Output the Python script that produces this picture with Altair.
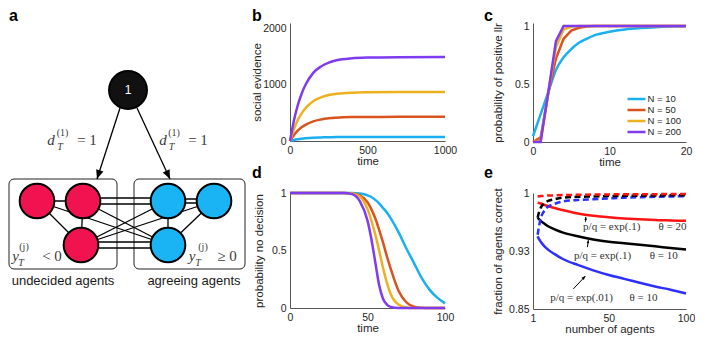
import math
import altair as alt
import pandas as pd

# ------------------------------------------------------------------ data
N_LABELS = ["N = 10", "N = 50", "N = 100", "N = 200"]
N_COLORS = ["#1AAFF0", "#D9531E", "#EDB120", "#7E3BEF"]

# panel b : social evidence vs time
b_time = [0, 25, 50, 75, 100, 150, 200, 250, 300, 400, 500, 700, 1000]
b_n10 = [0, 18, 32, 42, 49, 59, 64, 68, 70, 71, 71.5, 72, 72]
b_n50 = [0, 104, 183, 243, 288, 350, 383, 404, 415, 425, 428, 430, 430]
b_n100 = [0, 210, 371, 492, 583, 708, 775, 817, 839, 860, 866, 870, 871]
b_n200 = [0, 361, 636, 842, 1000, 1213, 1326, 1396, 1437, 1473, 1485, 1491, 1493]

# panel c : probability of positive llr vs time
c_time_step = list(range(0, 21))
c_n50 = [0, 0.04, 0.42, 0.72, 0.89, 0.96, 0.985, 0.995, 1, 1, 1, 1, 1, 1, 1, 1, 1, 1, 1, 1, 1]
c_n100 = [0, 0.01, 0.43, 0.82, 0.97, 0.995, 1, 1, 1, 1, 1, 1, 1, 1, 1, 1, 1, 1, 1, 1, 1]
c_n200 = [0, 0, 0.43, 0.87, 1, 1, 1, 1, 1, 1, 1, 1, 1, 1, 1, 1, 1, 1, 1, 1, 1]
c_time_smooth = [0, 1, 2, 3, 4, 5, 6, 7, 8, 10, 12, 14, 16, 18, 20]
c_n10 = [0.05, 0.24, 0.43, 0.62, 0.73, 0.80, 0.855, 0.89, 0.92, 0.95, 0.97, 0.982, 0.99, 0.995, 0.998]

# panel d : probability no decision vs time
d_time = [0, 30, 35, 40, 45, 50, 52.5, 55, 57.5, 60, 62.5, 65, 70, 75, 80, 85, 90, 95, 100]
d_n10 = [1, 1, 1, 1, 0.995, 0.98, 0.965, 0.94, 0.91, 0.87, 0.83, 0.78, 0.66, 0.52, 0.39, 0.26, 0.16, 0.09, 0.04]
d_n50 = [1, 1, 1, 0.995, 0.98, 0.92, 0.86, 0.78, 0.68, 0.57, 0.45, 0.34, 0.15, 0.05, 0.012, 0.002, 0, 0, 0]
d_n100 = [1, 1, 1, 0.995, 0.97, 0.86, 0.76, 0.64, 0.5, 0.35, 0.22, 0.12, 0.03, 0.005, 0, 0, 0, 0, 0]
d_n200 = [1, 1, 1, 0.99, 0.93, 0.76, 0.6, 0.4, 0.2, 0.08, 0.03, 0.01, 0, 0, 0, 0, 0, 0, 0]

# panel e : fraction of agents correct vs number of agents
e_n = [4, 5, 6, 8, 10, 15, 20, 30, 40, 50, 60, 70, 80, 90, 100]
e_solid_red = [0.9875, 0.987, 0.9865, 0.985, 0.9835, 0.9805, 0.978, 0.9735, 0.9705, 0.9685, 0.967, 0.966, 0.965, 0.9645, 0.964]
e_solid_black = [0.968, 0.966, 0.964, 0.961, 0.958, 0.953, 0.949, 0.944, 0.940, 0.937, 0.935, 0.933, 0.931, 0.929, 0.927]
e_solid_blue = [0.944, 0.940, 0.937, 0.932, 0.928, 0.921, 0.915, 0.907, 0.900, 0.894, 0.889, 0.884, 0.879, 0.875, 0.870]
e_dash_red = [0.9955, 0.9957, 0.996, 0.9963, 0.9966, 0.997, 0.9973, 0.9977, 0.998, 0.9982, 0.9983, 0.9984, 0.9985, 0.9986, 0.9986]
e_dash_black = [0.968, 0.976, 0.981, 0.986, 0.989, 0.992, 0.994, 0.995, 0.9955, 0.996, 0.9963, 0.9966, 0.9968, 0.997, 0.997]
e_dash_blue = [0.946, 0.958, 0.967, 0.976, 0.981, 0.986, 0.989, 0.991, 0.992, 0.993, 0.994, 0.9945, 0.995, 0.9955, 0.996]
E_SERIES = ["theta20", "theta10", "theta10_01"]
E_COLORS = ["#FF1414", "#000000", "#2E2EFF"]
e_note_text = ["p/q = exp(.1)", "p/q = exp(.1)", "p/q = exp(.01)"]
e_note_x = [33.4, 27.5, 12.1]
e_note_y = [0.9556, 0.9185, 0.8638]
e_theta_text = ["θ = 20", "θ = 10", "θ = 10"]
e_theta_x = [82.2, 76.6, 63.5]
e_arrow_x1 = [35.0, 36.2, 27.1]
e_arrow_y1 = [0.9628, 0.930, 0.876]
e_arrow_x2 = [35.2, 36.8, 34.9]
e_arrow_y2 = [0.969, 0.939, 0.8926]

# panel a : schematic network
node_label = ["1", "", "", "", "", "", ""]
node_x = [121, 30, 76, 74, 161, 207, 161]
node_y = [90, 201, 201, 245, 201, 201, 245]
node_kind = ["source", "undecided", "undecided", "undecided", "agreeing", "agreeing", "agreeing"]
node_size = [1440, 1200, 1200, 1200, 1200, 1200, 1200]
edge_from = [1, 1, 1, 2, 2, 2, 2, 3, 3, 3, 3, 4, 4, 4, 6]
edge_to = [2, 3, 6, 3, 4, 4, 6, 4, 5, 6, 6, 5, 5, 6, 5]
edge_dy = [0, 0, 0, 0, -3, 3, 0, 0, 0, -3, 3, -2, 2, 0, 0]
group_name = ["undecided agents", "agreeing agents"]
group_x1 = [2, 127]
group_x2 = [110, 238]
group_y1 = [179, 179]
group_y2 = [269, 269]
group_label_x = [56, 187]
group_label_y = [281, 281]
arrow_x1 = [113, 130]
arrow_y1 = [108, 108]
arrow_x2 = [90, 163]
arrow_y2 = [179, 179]
math_main_text = ["d", "d", "y", "y"]
math_main_x = [44, 156, 8.5, 185]
math_main_y = [140, 140, 256, 256]
math_rel_text = ["= 1", "= 1", "< 0", "≥ 0"]
math_rel_x = [80, 191, 45, 220]
math_rel_y = [140, 140, 256, 256]
math_sup_text = ["(1)", "(1)", "(j)", "(j)"]
math_sup_x = [55.5, 167, 17, 196]
math_sup_y = [133, 133, 247, 247]
math_sub_text = ["T", "T", "T", "T"]
math_sub_x = [53, 164.5, 14, 191]
math_sub_y = [146.5, 146.5, 262.5, 262.5]
panel_letter = ["a", "b", "c", "d", "e"]
panel_letter_x = [2, 245, 477, 245, 477]
panel_letter_y = [8, 8, 8, 165, 165]

ARROW = "M0,0L-0.42,-1L0.42,-1Z"
SANS = "Liberation Sans"
SERIF = "Liberation Serif"
TXT = "#262626"


def head_angle(dx, dy):
    return math.degrees(math.atan2(-dx, dy)) % 360


# ------------------------------------------------------------------ panel a
XA = alt.Scale(domain=[2, 195], nice=False, zero=False)
YA = alt.Scale(domain=[23, 141], reverse=True, nice=False, zero=False)


def ax(f):
    return alt.X(f + ":Q", scale=XA, axis=None)


def ay(f):
    return alt.Y(f + ":Q", scale=YA, axis=None)


df_nodes = pd.DataFrame({"x": node_x, "y": node_y, "kind": node_kind,
                         "size": node_size, "text": node_label})
df_edges = pd.DataFrame({
    "x1": [node_x[i] for i in edge_from],
    "y1": [node_y[i] + d for i, d in zip(edge_from, edge_dy)],
    "x2": [node_x[j] for j in edge_to],
    "y2": [node_y[j] + d for j, d in zip(edge_to, edge_dy)],
})
df_groups = pd.DataFrame({"x1": group_x1, "x2": group_x2, "y1": group_y1, "y2": group_y2,
                          "text": group_name, "lx": group_label_x, "ly": group_label_y})
df_arrows = pd.DataFrame({
    "x1": arrow_x1, "y1": arrow_y1, "x2": arrow_x2, "y2": arrow_y2,
    "angle": [head_angle(a2 - a1, b2 - b1) for a1, b1, a2, b2 in zip(arrow_x1, arrow_y1, arrow_x2, arrow_y2)],
})


def tdf(t, x, y):
    return pd.DataFrame({"text": t, "x": x, "y": y})


boxes = alt.Chart(df_groups).mark_rect(cornerRadius=5, fill="white", stroke="#222222", strokeWidth=1).encode(
    x=ax("x1"), x2="x2:Q", y=ay("y1"), y2="y2:Q")
edges = alt.Chart(df_edges).mark_rule(color="black", strokeWidth=1.3).encode(
    x=ax("x1"), x2="x2:Q", y=ay("y1"), y2="y2:Q")
arrow_lines = alt.Chart(df_arrows).mark_rule(color="black", strokeWidth=1.3).encode(
    x=ax("x1"), x2="x2:Q", y=ay("y1"), y2="y2:Q")
arrow_heads = alt.Chart(df_arrows).mark_point(shape=ARROW, filled=True, color="black", opacity=1, size=324).encode(
    x=ax("x2"), y=ay("y2"), angle=alt.Angle("angle:Q", scale=None))
nodes = alt.Chart(df_nodes).mark_circle(stroke="black", strokeWidth=2, opacity=1).encode(
    x=ax("x"), y=ay("y"),
    fill=alt.Fill("kind:N", scale=alt.Scale(domain=["source", "undecided", "agreeing"],
                                             range=["#111111", "#F0134F", "#1AB4F5"]), legend=None),
    size=alt.Size("size:Q", scale=None))
node_text = alt.Chart(df_nodes).mark_text(color="white", font=SANS, fontSize=12).encode(
    x=ax("x"), y=ay("y"), text="text:N")
group_text = alt.Chart(df_groups).mark_text(color="#1a1a1a", font=SANS, fontSize=13).encode(
    x=ax("lx"), y=ay("ly"), text="text:N")
m_main = alt.Chart(tdf(math_main_text, math_main_x, math_main_y)).mark_text(
    font=SERIF, fontSize=15, fontStyle="italic", color="#3a3a3a").encode(x=ax("x"), y=ay("y"), text="text:N")
m_rel = alt.Chart(tdf(math_rel_text, math_rel_x, math_rel_y)).mark_text(
    font=SERIF, fontSize=15, color="#3a3a3a").encode(x=ax("x"), y=ay("y"), text="text:N")
m_sup = alt.Chart(tdf(math_sup_text, math_sup_x, math_sup_y)).mark_text(
    font=SERIF, fontSize=10, color="#3a3a3a").encode(x=ax("x"), y=ay("y"), text="text:N")
m_sub = alt.Chart(tdf(math_sub_text, math_sub_x, math_sub_y)).mark_text(
    font=SERIF, fontSize=10, fontStyle="italic", color="#3a3a3a").encode(x=ax("x"), y=ay("y"), text="text:N")
letters = alt.Chart(tdf(panel_letter, panel_letter_x, panel_letter_y)).mark_text(
    font=SANS, fontSize=16, fontWeight="bold", align="left", baseline="top", color="black").encode(
    x=ax("x"), y=ay("y"), text="text:N")

panel_a = alt.layer(boxes, edges, arrow_lines, arrow_heads, nodes, node_text, group_text,
                    m_main, m_rel, m_sup, m_sub, letters).properties(width=193, height=118)

spacer = alt.Chart(pd.DataFrame({"v": [0]})).mark_point(opacity=0).encode(
    x=alt.X("v:Q", axis=None), y=alt.Y("v:Q", axis=None)).properties(width=193, height=115)

# ------------------------------------------------------------------ shared helpers
NCOLOR = alt.Scale(domain=N_LABELS, range=N_COLORS)


def long_df(xs, series, xname):
    rows = []
    for lab, vals in series:
        for x, v in zip(xs, vals):
            rows.append({xname: x, "value": v, "N": lab})
    return pd.DataFrame(rows)


def xaxis(vals, title):
    return alt.Axis(values=vals, title=title, format="d", labelPadding=4, titlePadding=0,
                    labelFlush=False, labelOverlap=False)


# ------------------------------------------------------------------ panel b
df_b = long_df(b_time, [("N = 10", b_n10), ("N = 50", b_n50), ("N = 100", b_n100), ("N = 200", b_n200)], "time")
panel_b = alt.Chart(df_b).mark_line(strokeWidth=2.5, interpolate="monotone").encode(
    x=alt.X("time:Q", scale=alt.Scale(domain=[0, 1000], nice=False), axis=xaxis([0, 500, 1000], "time")),
    y=alt.Y("value:Q", scale=alt.Scale(domain=[0, 2100], nice=False),
            axis=alt.Axis(values=[0, 1000, 2000], title="social evidence", format="d", titlePadding=0)),
    color=alt.Color("N:N", scale=NCOLOR, legend=None),
).properties(width=155, height=118)

# ------------------------------------------------------------------ panel c
df_c_smooth = long_df(c_time_smooth, [("N = 10", c_n10)], "time")
df_c_step = long_df(c_time_step, [("N = 50", c_n50), ("N = 100", c_n100), ("N = 200", c_n200)], "time")
cx = alt.X("time:Q", scale=alt.Scale(domain=[0, 20], nice=False), axis=xaxis([0, 10, 20], "time"))
cy = alt.Y("value:Q", scale=alt.Scale(domain=[0, 1.026], nice=False),
           axis=alt.Axis(values=[0, 0.5, 1], format="~g", title="probability of positive llr", titlePadding=11))
c_legend = alt.Legend(title=None, orient="none", legendX=97.5, legendY=70, symbolType="M-2,0L2,0",
                      symbolSize=81, symbolStrokeWidth=2.5, labelFontSize=9.5, labelFont=SANS,
                      labelColor=TXT, rowPadding=0, labelOffset=5, padding=0)
c_smooth = alt.Chart(df_c_smooth).mark_line(strokeWidth=2.5, interpolate="monotone").encode(
    x=cx, y=cy, color=alt.Color("N:N", scale=NCOLOR, legend=c_legend))
c_step = alt.Chart(df_c_step).mark_line(strokeWidth=2.5).encode(
    x=cx, y=cy, color=alt.Color("N:N", scale=NCOLOR, legend=c_legend))
panel_c = alt.layer(c_smooth, c_step).properties(width=153, height=119)

# ------------------------------------------------------------------ panel d
df_d = long_df(d_time, [("N = 10", d_n10), ("N = 50", d_n50), ("N = 100", d_n100), ("N = 200", d_n200)], "time")
panel_d = alt.Chart(df_d).mark_line(strokeWidth=2.5, interpolate="monotone").encode(
    x=alt.X("time:Q", scale=alt.Scale(domain=[0, 100], nice=False), axis=xaxis([0, 50, 100], "time")),
    y=alt.Y("value:Q", scale=alt.Scale(domain=[0, 1], nice=False),
            axis=alt.Axis(values=[0, 0.5, 1], format="~g", title="probability no decision", titlePadding=7)),
    color=alt.Color("N:N", scale=NCOLOR, legend=None),
).properties(width=155, height=115)

# ------------------------------------------------------------------ panel e
df_e_solid = long_df(e_n, [("theta20", e_solid_red), ("theta10", e_solid_black), ("theta10_01", e_solid_blue)], "n")
df_e_dash = long_df(e_n, [("theta10_01", e_dash_blue), ("theta10", e_dash_black), ("theta20", e_dash_red)], "n")
ECOLOR = alt.Scale(domain=E_SERIES, range=E_COLORS)
ex = alt.X("n:Q", scale=alt.Scale(domain=[1, 100], nice=False, zero=False), axis=xaxis([1, 50, 100], "number of agents"))
ey = alt.Y("value:Q", scale=alt.Scale(domain=[0.85, 1], nice=False, zero=False),
           axis=alt.Axis(values=[0.85, 0.925, 1], title="fraction of agents correct", titlePadding=5,
                         labelExpr="datum.value == 1 ? '1' : format(datum.value, '.2f')"))
e_solid = alt.Chart(df_e_solid).mark_line(strokeWidth=2.5, interpolate="monotone").encode(
    x=ex, y=ey, color=alt.Color("N:N", scale=ECOLOR, legend=None))
e_dash = alt.Chart(df_e_dash).mark_line(strokeWidth=2.5, interpolate="monotone", strokeDash=[6, 3.5]).encode(
    x=ex, y=ey, color=alt.Color("N:N", scale=ECOLOR, legend=None))

E_PX_X = 153 / 99.0
E_PX_Y = 116 / 0.15
df_e_arrows = pd.DataFrame({
    "x1": e_arrow_x1, "y1": e_arrow_y1, "x2": e_arrow_x2, "y2": e_arrow_y2,
    "angle": [head_angle((a2 - a1) * E_PX_X, -(b2 - b1) * E_PX_Y)
              for a1, b1, a2, b2 in zip(e_arrow_x1, e_arrow_y1, e_arrow_x2, e_arrow_y2)],
    "size": [36, 36, 64],
})
e_arrow_line = alt.Chart(df_e_arrows).mark_rule(color="black", strokeWidth=1).encode(
    x=alt.X("x1:Q"), x2="x2:Q", y=alt.Y("y1:Q"), y2="y2:Q")
e_arrow_head = alt.Chart(df_e_arrows).mark_point(shape=ARROW, filled=True, color="black", opacity=1).encode(
    x=alt.X("x2:Q"), y=alt.Y("y2:Q"), angle=alt.Angle("angle:Q", scale=None), size=alt.Size("size:Q", scale=None))
df_e_note = pd.DataFrame({"x": e_note_x, "y": e_note_y, "text": e_note_text})
df_e_theta = pd.DataFrame({"x": e_theta_x, "y": e_note_y, "text": e_theta_text})
e_note = alt.Chart(df_e_note).mark_text(font=SERIF, fontSize=11, align="left", color="#333333").encode(
    x=alt.X("x:Q"), y=alt.Y("y:Q"), text="text:N")
e_theta = alt.Chart(df_e_theta).mark_text(font=SERIF, fontSize=11, align="left", color="#333333").encode(
    x=alt.X("x:Q"), y=alt.Y("y:Q"), text="text:N")
panel_e = alt.layer(e_solid, e_dash, e_arrow_line, e_arrow_head, e_note, e_theta).properties(width=153, height=116)

# ------------------------------------------------------------------ assemble
chart = alt.concat(
    panel_a, panel_b, panel_c, spacer, panel_d, panel_e,
    columns=3, spacing={"row": 51, "column": 88}, bounds="flush", align="each",
).resolve_scale(color="independent", fill="independent").properties(
    padding=0, background="white"
).configure_view(stroke=None).configure_axis(
    domainColor="#555555", domainWidth=1, ticks=False, tickSize=0, grid=False,
    labelFont=SANS, labelFontSize=10.5, labelColor=TXT, labelPadding=4,
    titleFont=SANS, titleFontSize=11.5, titleFontWeight="normal", titleColor=TXT,
)

chart.save("out.html", embed_options={"renderer": "svg", "actions": False})
